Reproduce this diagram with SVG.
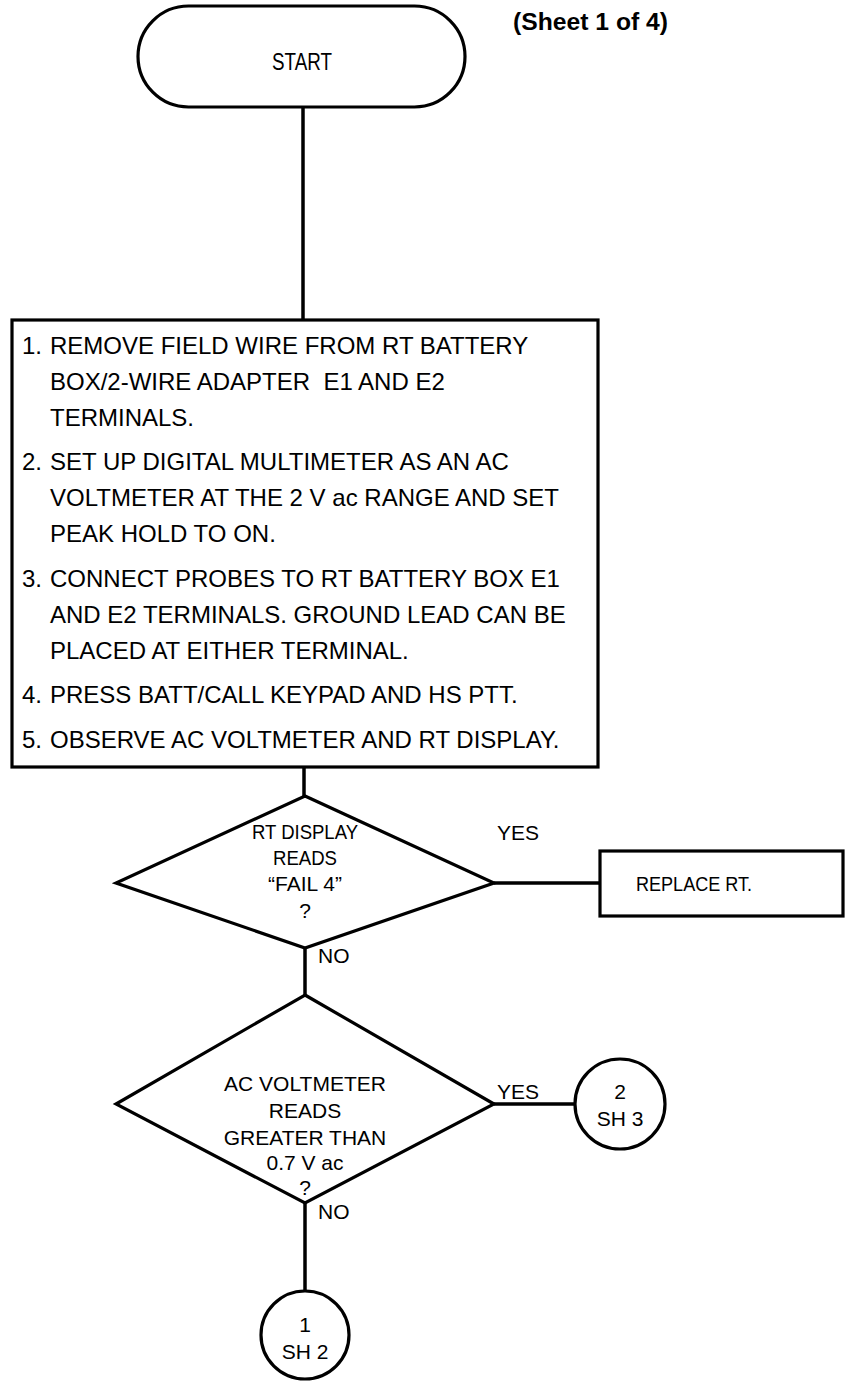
<svg xmlns="http://www.w3.org/2000/svg" width="845" height="1382" viewBox="0 0 845 1382">
<style>
.s{fill:#fff;stroke:#000;stroke-width:3.2}
.c{fill:none;stroke:#000;stroke-width:3.5}
.t{font-family:"Liberation Sans",Arial,sans-serif;fill:#000}
.b{font-size:24px}
.d{font-size:21px;text-anchor:middle}
.l{font-size:21px}
</style>
<rect width="845" height="1382" fill="#fff"/>
<g id="connectors">
<line class="c" x1="303" y1="107" x2="303" y2="320"/>
<line class="c" x1="304" y1="767" x2="304" y2="796"/>
<line class="c" x1="494" y1="883" x2="600" y2="883"/>
<line class="c" x1="305" y1="948" x2="305" y2="995"/>
<line class="c" x1="494" y1="1104" x2="575" y2="1104"/>
<line class="c" x1="305" y1="1203" x2="305" y2="1291"/>
<text class="t l" x="497" y="840">YES</text>
<text class="t l" x="318" y="963">NO</text>
<text class="t l" x="497" y="1099">YES</text>
<text class="t l" x="318" y="1219">NO</text>
</g>
<g id="start">
<rect class="s" x="138" y="6" width="327" height="101" rx="50.5"/>
<text class="t" x="302" y="70" font-size="23" text-anchor="middle" textLength="60" lengthAdjust="spacingAndGlyphs">START</text>
</g>
<g id="sheet">
<text class="t" x="513" y="30" font-size="24" font-weight="bold" textLength="155" lengthAdjust="spacingAndGlyphs">(Sheet 1 of 4)</text>
</g>
<g id="steps">
<rect class="s" x="12" y="320" width="586" height="447"/>
<g class="t b">
<text x="22" y="354">1.</text><text x="50" y="354">REMOVE FIELD WIRE FROM RT BATTERY</text>
<text x="50" y="390">BOX/2-WIRE ADAPTER&#160; E1 AND E2</text>
<text x="50" y="426">TERMINALS.</text>
<text x="22" y="470">2.</text><text x="50" y="470">SET UP DIGITAL MULTIMETER AS AN AC</text>
<text x="50" y="506">VOLTMETER AT THE 2 V ac RANGE AND SET</text>
<text x="50" y="542">PEAK HOLD TO ON.</text>
<text x="22" y="587">3.</text><text x="50" y="587">CONNECT PROBES TO RT BATTERY BOX E1</text>
<text x="50" y="623">AND E2 TERMINALS. GROUND LEAD CAN BE</text>
<text x="50" y="659">PLACED AT EITHER TERMINAL.</text>
<text x="22" y="703">4.</text><text x="50" y="703">PRESS BATT/CALL KEYPAD AND HS PTT.</text>
<text x="22" y="748">5.</text><text x="50" y="748">OBSERVE AC VOLTMETER AND RT DISPLAY.</text>
</g>
</g>
<g id="decision1">
<polygon class="s" points="305,796 494,883 305,948 116,883"/>
<g class="t d">
<text x="305" y="839" textLength="106" lengthAdjust="spacingAndGlyphs">RT DISPLAY</text>
<text x="305" y="865" textLength="64" lengthAdjust="spacingAndGlyphs">READS</text>
<text x="305" y="891">“FAIL 4”</text>
<text x="305" y="918">?</text>
</g>
</g>
<g id="replace">
<rect class="s" x="600" y="851" width="243" height="65"/>
<text class="t" x="636" y="891" font-size="21" textLength="116" lengthAdjust="spacingAndGlyphs">REPLACE RT.</text>
</g>
<g id="decision2">
<polygon class="s" points="305,995 494,1104 305,1203 116,1104"/>
<g class="t d">
<text x="305" y="1091">AC VOLTMETER</text>
<text x="305" y="1118">READS</text>
<text x="305" y="1145">GREATER THAN</text>
<text x="305" y="1170">0.7 V ac</text>
<text x="305" y="1195">?</text>
</g>
</g>
<g id="conn2">
<circle class="s" cx="620" cy="1104" r="45"/>
<text class="t d" x="620" y="1099">2</text>
<text class="t d" x="620" y="1126">SH 3</text>
</g>
<g id="conn1">
<circle class="s" cx="305" cy="1335" r="44"/>
<text class="t d" x="305" y="1332">1</text>
<text class="t d" x="305" y="1359">SH 2</text>
</g>
</svg>
